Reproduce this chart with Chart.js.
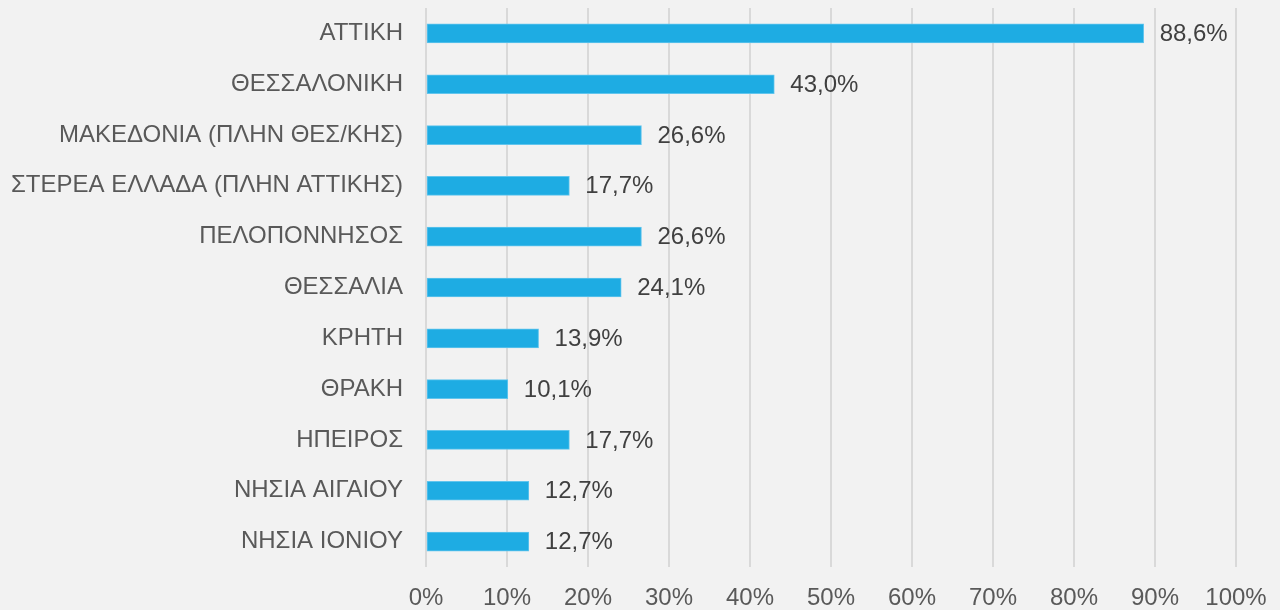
<!DOCTYPE html>
<html lang="el">
<head>
<meta charset="utf-8">
<script src="https://cdn.jsdelivr.net/npm/chart.js@4"></script>
<style>
  html, body { margin: 0; padding: 0; background: #f2f2f2; }
  #wrap { width: 1280px; height: 610px; }
</style>
</head>
<body>
<div id="wrap"><canvas id="chart" width="1280" height="610"></canvas></div>
<script>
// Περιφέρειες και ποσοστά
const periferies = [
    'ΑΤΤΙΚΗ',
    'ΘΕΣΣΑΛΟΝΙΚΗ',
    'ΜΑΚΕΔΟΝΙΑ (ΠΛΗΝ ΘΕΣ/ΚΗΣ)',
    'ΣΤΕΡΕΑ ΕΛΛΑΔΑ (ΠΛΗΝ ΑΤΤΙΚΗΣ)',
    'ΠΕΛΟΠΟΝΝΗΣΟΣ',
    'ΘΕΣΣΑΛΙΑ',
    'ΚΡΗΤΗ',
    'ΘΡΑΚΗ',
    'ΗΠΕΙΡΟΣ',
    'ΝΗΣΙΑ ΑΙΓΑΙΟΥ',
    'ΝΗΣΙΑ ΙΟΝΙΟΥ'
];
const pososta = [88.6, 43.0, 26.6, 17.7, 26.6, 24.1, 13.9, 10.1, 17.7, 12.7, 12.7];
const xTicks = [0, 10, 20, 30, 40, 50, 60, 70, 80, 90, 100];

const FONT = '"Liberation Sans", Arial, sans-serif';

// ετικέτες τιμών δεξιά από κάθε μπάρα
const etiketesPlugin = {
    id: 'etiketes',
    afterDatasetsDraw(chart) {
        const ctx = chart.ctx;
        const meta = chart.getDatasetMeta(0);
        ctx.save();
        ctx.font = '24px ' + FONT;
        ctx.fillStyle = '#404040';
        ctx.textAlign = 'left';
        ctx.textBaseline = 'middle';
        meta.data.forEach((bar, i) => {
            const txt = pososta[i].toFixed(1).replace('.', ',') + '%';
            ctx.fillText(txt, bar.x + 16, bar.y + 1);
        });
        ctx.restore();
    }
};

const ctx = document.getElementById('chart').getContext('2d');
new Chart(ctx, {
    type: 'bar',
    data: {
        labels: periferies,
        datasets: [{
            data: pososta,
            backgroundColor: '#1eace3',
            borderColor: '#62c5ed',
            borderWidth: 1,
            borderSkipped: false,
            barThickness: 19
        }]
    },
    options: {
        indexAxis: 'y',
        responsive: false,
        animation: false,
        layout: { padding: { top: 8, right: 44, left: 0, bottom: 0 } },
        scales: {
            x: {
                min: 0,
                max: 100,
                afterBuildTicks: axis => { axis.ticks = xTicks.map(v => ({ value: v })); },
                afterFit: axis => {
                    axis.height = 43;
                    axis.paddingLeft = 0;
                    axis.paddingRight = 0;
                },
                grid: { color: '#d9d9d9', lineWidth: 2, drawTicks: false },
                border: { display: false },
                ticks: {
                    padding: 17,
                    color: '#595959',
                    font: { family: FONT, size: 24 },
                    callback: v => v + '%'
                }
            },
            y: {
                afterFit: axis => {
                    axis.width = 426;
                    axis.paddingTop = 0;
                    axis.paddingBottom = 0;
                },
                grid: { display: false, drawTicks: false },
                border: { display: false },
                ticks: {
                    padding: 23,
                    color: '#595959',
                    font: { family: FONT, size: 24 }
                }
            }
        },
        plugins: {
            legend: { display: false },
            tooltip: { enabled: false }
        }
    },
    plugins: [etiketesPlugin]
});
</script>
</body>
</html>
